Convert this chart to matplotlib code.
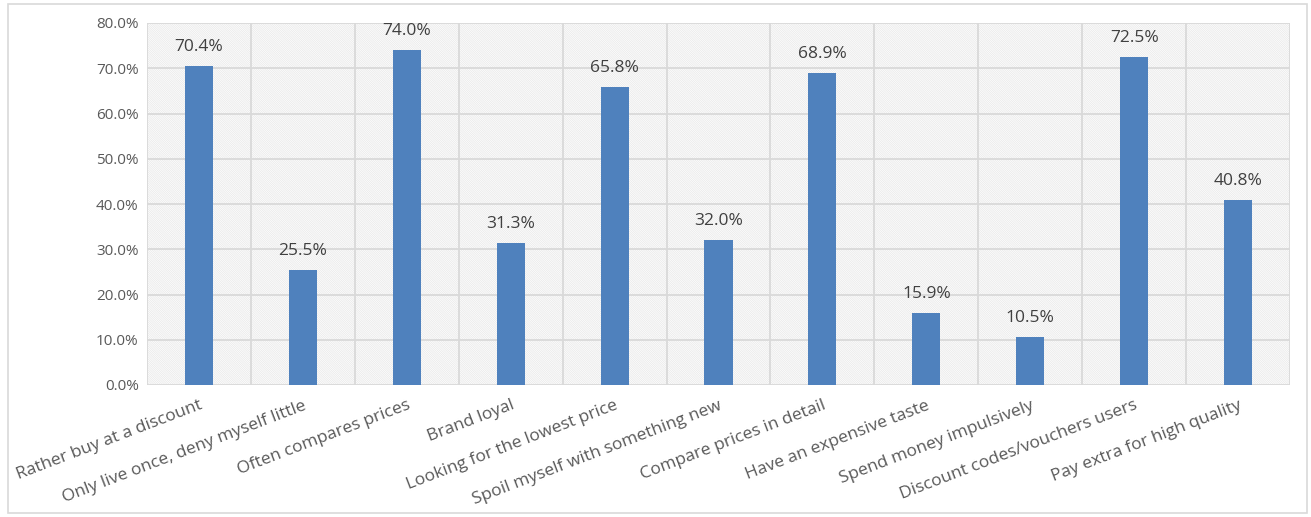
import matplotlib.pyplot as plt
from matplotlib.patches import Rectangle
import matplotlib as mpl

categories = ["Rather buy at a discount", "Only live once, deny myself little",
              "Often compares prices", "Brand loyal", "Looking for the lowest price",
              "Spoil myself with something new", "Compare prices in detail",
              "Have an expensive taste", "Spend money impulsively",
              "Discount codes/vouchers users", "Pay extra for high quality"]
values = [70.4, 25.5, 74.0, 31.3, 65.8, 32.0, 68.9, 15.9, 10.5, 72.5, 40.8]
yticks = [0, 10, 20, 30, 40, 50, 60, 70, 80]

plt.rcParams['font.family'] = ['Open Sans', 'DejaVu Sans']
mpl.rcParams['hatch.color'] = '#e0e0e0'
mpl.rcParams['hatch.linewidth'] = 0.35

fig = plt.figure(figsize=(13.11, 5.17), dpi=100)
ax = fig.add_axes([147 / 1311, 1 - 385 / 517, (1290 - 147) / 1311, (385 - 23) / 517])

# outer chart border
fig.patches.append(Rectangle((8 / 1311, 4 / 517), 1299 / 1311, 509 / 517,
                             transform=fig.transFigure, fill=False,
                             edgecolor='#d9d9d9', linewidth=1.2))

# hatched plot area
ax.add_patch(Rectangle((0, 0), 1, 1, transform=ax.transAxes, facecolor='white',
                       hatch='\\' * 18, edgecolor='#e0e0e0', linewidth=0, zorder=0))

x = list(range(len(categories)))
bars = ax.bar(x, values, width=0.27, color='#4f81bd', zorder=3)
ax.bar_label(bars, labels=[f"{v:.1f}%" for v in values], padding=8,
             fontsize=12.5, color='#404040')

ax.set_xlim(-0.5, len(categories) - 0.5)
ax.set_ylim(0, 80)
ax.set_yticks(yticks)
ax.set_yticklabels([f"{t:.1f}%" for t in yticks], fontsize=11, color='#595959')

# grid: horizontal at ticks, vertical at category boundaries
for t in yticks:
    ax.axhline(t, color='#d9d9d9', linewidth=1.3, zorder=1)
for b in range(len(categories) + 1):
    ax.axvline(b - 0.5, color='#d9d9d9', linewidth=1.3, zorder=1)

ax.set_xticks(x)
ax.set_xticklabels(categories, rotation=21, ha='right', rotation_mode='anchor',
                   fontsize=12.5, color='#595959')
ax.tick_params(axis='both', length=0)
ax.tick_params(axis='x', pad=9)
ax.tick_params(axis='y', pad=6)
for s in ax.spines.values():
    s.set_visible(False)

fig.savefig('out.png', dpi=100)
